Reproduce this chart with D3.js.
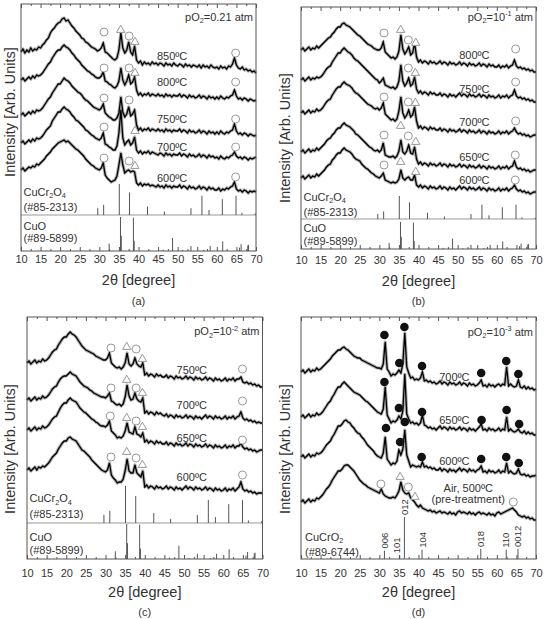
<!DOCTYPE html>
<html><head><meta charset="utf-8">
<script src="https://cdn.jsdelivr.net/npm/d3@7"></script>
<style>
body{margin:0;background:#fff;}
svg text{font-family:"Liberation Sans",Arial,sans-serif;fill:#333;}
</style></head><body>
<svg id="chart" width="547" height="619"></svg>
<script>
// ---------- DATA ----------
// 2theta grid: 10.0 .. 70.0 step 0.5 (121 points), rows of 10 values = 5 degrees
const twoTheta = d3.range(121).map(i => 10 + i * 0.5);
const majorTicks = [10,15,20,25,30,35,40,45,50,55,60,65,70];
const minorTicks = [12.5,17.5,22.5,27.5,32.5,37.5,42.5,47.5,52.5,57.5,62.5,67.5];

// Panel (a) pO2 = 0.21 atm
const a850 = [199,202,198,201,199,203,200,202,201,204, 203,206,208,211,213,218,221,223,226,228, 229,232,233,230,231,228,225,223,220,218, 216,213,212,209,208,206,204,203,202,200, 201,203,208,199,198,196,194,192,191,193, 201,218,203,198,201,209,199,196,205,191, 188,190,186,189,187,188,186,189,187,188, 186,188,187,185,188,186,187,185,188,186, 185,187,186,184,187,185,186,184,186,185, 184,186,183,186,184,185,183,186,184,183, 184,182,185,183,184,182,185,184,187,193, 186,183,182,184,181,182,180,181,179,180, 178];
const a800 = [171,173,170,172,174,172,175,173,176,175, 176,178,181,184,187,189,193,196,199,201, 201,204,206,204,203,201,198,196,193,191, 189,186,184,182,180,179,177,176,174,173, 173,175,179,170,169,167,166,164,163,165, 170,183,171,166,170,176,167,169,174,161, 156,158,155,157,156,158,155,157,156,155, 157,155,156,154,157,155,156,154,156,155, 155,157,154,156,155,153,156,154,155,153, 154,156,153,155,154,152,155,153,154,152, 154,152,155,153,152,154,153,155,156,161, 155,152,153,151,153,152,150,152,151,150, 151];
const a750 = [136,138,135,137,139,137,140,138,141,140, 141,143,146,149,152,154,158,161,164,167, 167,170,173,171,170,168,165,163,161,159, 158,156,153,151,150,148,146,144,143,142, 141,143,147,138,136,134,133,131,131,133, 138,154,139,134,137,144,135,137,141,126, 121,123,120,122,121,123,120,122,121,120, 122,120,121,119,122,120,121,119,121,120, 120,122,119,121,120,118,121,119,120,118, 119,121,118,120,119,117,120,118,119,117, 119,117,120,118,117,119,118,120,121,127, 120,117,118,116,118,117,115,117,116,115, 116];
const a700 = [108,110,107,109,111,109,112,110,113,112, 113,115,118,121,123,125,130,133,136,139, 139,142,144,142,141,139,136,134,131,130, 128,126,124,121,120,118,116,115,113,112, 111,113,118,107,106,104,103,101,101,105, 118,141,113,106,109,111,106,108,114,101, 98,100,97,99,98,100,97,99,98,97, 96,98,97,95,98,96,97,95,97,96, 96,98,95,97,96,94,97,95,96,94, 95,97,94,96,95,93,96,94,95,93, 94,92,95,93,92,94,93,95,96,99, 95,93,94,92,94,93,91,93,92,93, 94];
const a600 = [81,83,80,82,84,83,85,84,87,86, 88,90,92,95,97,99,102,104,106,108, 109,110,111,109,110,108,106,104,102,101, 99,97,95,92,90,88,86,85,83,82, 81,83,88,76,73,71,69,70,71,75, 86,98,86,78,80,81,79,80,79,68, 66,68,65,67,66,67,65,66,65,64, 66,64,65,63,66,64,65,63,65,64, 64,66,63,65,64,62,65,63,64,62, 63,65,62,64,63,61,64,62,63,61, 61,63,60,62,61,63,62,64,65,69, 62,60,61,59,61,60,58,60,59,60, 59];
const tempsA = ["850ºC","800ºC","750ºC","700ºC","600ºC"];
const markersA = [
 [31.2,219,"o"],[35.45,221,"t"],[37.6,215,"o"],[39.1,209,"t"],[64.8,198,"o"],
 [31.2,183,"o"],[37.6,183,"o"],[39.1,178,"t"],[64.8,169,"o"],
 [31.2,153,"o"],[37.6,151,"o"],[64.8,132,"o"],
 [31.2,124,"o"],[39.1,120,"t"],[64.8,104,"o"],
 [31.2,93,"o"],[37.6,90,"o"],[39.1,85,"t"],[64.8,74,"o"]];

// Panel (b) pO2 = 10^-1 atm
const b800 = [199,201,198,200,202,199,201,200,203,201, 203,205,207,209,211,212,215,217,220,222, 222,225,226,224,223,222,220,218,216,214, 213,211,209,207,205,204,203,201,200,199, 199,201,207,197,195,193,191,192,190,192, 198,214,200,195,198,202,194,196,206,192, 187,189,186,188,187,185,188,186,187,185, 186,188,185,187,186,184,187,185,186,184, 185,187,184,186,185,183,186,184,185,183, 184,186,183,185,184,182,185,183,184,182, 182,184,181,183,182,184,181,183,184,189, 183,181,182,180,181,179,180,178,179,177, 177];
const b750 = [169,171,168,170,172,169,171,170,172,171, 172,174,177,180,182,183,187,190,193,196, 196,199,201,199,197,196,194,191,189,188, 186,184,182,180,178,176,174,172,170,169, 166,168,171,164,163,162,161,162,160,162, 168,184,168,163,166,171,163,165,172,160, 156,158,155,157,156,154,157,155,156,154, 154,156,153,155,154,152,155,153,154,152, 154,156,153,155,154,152,155,153,154,152, 153,155,152,154,153,151,154,152,153,151, 152,154,151,153,152,154,151,153,154,159, 153,151,152,150,151,149,150,148,149,147, 147];
const b700 = [136,138,135,137,139,136,138,137,140,138, 139,141,144,147,149,150,154,157,160,162, 162,165,167,165,164,163,161,158,156,155, 153,151,149,147,145,144,143,141,140,141, 139,141,146,135,133,131,129,130,128,130, 138,152,136,131,134,139,132,134,142,128, 121,123,120,122,121,119,122,120,121,119, 119,121,118,120,119,117,120,118,119,117, 118,120,117,119,118,116,119,117,118,116, 117,119,116,118,117,115,118,116,117,115, 116,118,115,117,116,118,115,117,118,121, 117,115,116,114,115,113,114,112,113,114, 114];
const b650 = [97,99,96,98,100,97,99,98,101,99, 101,103,105,108,110,111,114,116,119,121, 121,124,126,124,123,122,120,118,115,114, 112,110,108,106,104,102,101,99,98,99, 97,99,106,94,93,92,92,93,91,93, 98,109,97,95,98,104,96,95,102,90, 85,87,84,86,85,83,86,84,85,83, 84,86,83,85,84,82,85,83,84,82, 83,85,82,84,83,81,84,82,83,81, 82,84,81,83,82,80,83,81,82,80, 81,83,80,82,81,83,80,82,83,88, 82,80,81,79,80,78,79,77,78,79, 79];
const b600 = [71,73,70,72,74,71,73,72,75,73, 75,77,79,82,84,85,89,91,94,96, 96,99,101,99,98,97,95,92,90,89, 88,85,83,81,80,78,76,75,73,72, 71,73,76,69,68,67,66,67,66,67, 70,79,71,69,71,72,69,69,74,64, 62,64,61,63,62,60,63,61,62,60, 61,63,60,62,61,59,62,60,61,59, 61,63,60,62,61,59,62,60,61,59, 60,62,59,61,60,58,61,59,60,58, 59,61,58,60,59,61,58,60,61,64, 60,58,59,57,58,56,57,55,56,57, 57];
const tempsB = ["800ºC","750ºC","700ºC","650ºC","600ºC"];
const markersB = [
 [31.2,216,"o"],[35.45,219,"t"],[37.4,209,"o"],[39.3,206,"t"],[64.8,200,"o"],
 [37.4,181,"o"],[39.2,176,"t"],[64.8,167,"o"],
 [31.2,152,"o"],[37.4,147,"o"],[39.2,146,"t"],[64.8,128,"o"],
 [31.2,114,"o"],[35.45,123,"t"],[37.4,113,"o"],[39.3,107,"t"],[64.7,94,"o"],
 [31.2,84,"o"],[35.45,87,"t"],[39.3,77,"t"],[64.7,69,"o"]];

// Panel (c) pO2 = 10^-2 atm
const c750 = [196,198,195,197,199,196,198,197,200,198, 199,201,204,207,209,210,214,217,220,222, 222,225,227,225,224,222,219,216,213,211, 209,208,207,206,205,203,202,201,200,199, 199,201,206,196,194,192,191,192,190,192, 196,206,195,193,195,201,195,193,192,196, 184,186,183,185,184,182,185,183,184,182, 182,184,181,183,182,180,183,181,182,180, 181,183,180,182,181,179,182,180,181,179, 180,182,179,181,180,178,181,179,180,178, 179,181,178,180,179,181,178,180,180,182, 177,176,177,175,176,174,175,173,174,172, 172];
const c700 = [159,161,158,160,162,159,161,160,163,161, 162,164,167,170,172,173,177,180,182,183, 183,185,187,185,184,183,180,177,175,173, 172,171,169,168,166,165,164,163,162,162, 161,163,166,158,157,155,154,155,153,155, 162,174,163,159,160,166,160,158,157,161, 146,148,145,147,146,144,147,145,146,144, 143,145,142,144,143,141,144,142,143,141, 142,144,141,143,142,140,143,141,142,140, 142,144,141,143,142,140,143,141,142,140, 141,143,140,142,141,143,140,142,143,147, 141,139,140,138,139,137,138,136,137,136, 136];
const c650 = [129,131,128,130,132,129,131,130,133,131, 132,134,137,140,142,143,147,151,154,156, 156,159,161,159,158,157,154,151,149,147, 146,144,142,140,139,137,136,134,133,133, 132,134,138,128,126,124,121,122,121,123, 128,136,127,126,125,132,125,124,122,126, 117,119,116,118,117,115,118,116,117,115, 115,117,114,116,115,113,116,114,115,113, 114,116,113,115,114,112,115,113,114,112, 113,115,112,114,113,111,114,112,113,111, 112,114,111,113,112,114,111,113,113,116, 112,110,111,109,110,108,109,107,108,109, 109];
const c600 = [89,91,88,90,92,89,92,91,93,92, 94,96,99,102,104,106,110,113,116,118, 118,121,122,120,119,118,115,112,109,108, 106,104,102,99,97,95,93,91,89,88, 87,89,96,84,81,79,76,77,77,80, 88,100,88,86,86,94,86,84,82,88, 72,74,71,73,72,70,73,71,72,70, 71,73,70,72,71,69,72,70,71,69, 71,73,70,72,71,69,72,70,71,69, 70,72,69,71,70,68,71,69,70,68, 69,71,68,70,69,71,68,70,72,77, 70,68,69,67,68,66,67,65,66,66, 66];
const tempsC = ["750ºC","700ºC","650ºC","600ºC"];
const markersC = [
 [31.4,211,"o"],[35.4,212,"t"],[37.8,210,"o"],[39.4,200,"t"],[64.9,190,"o"],
 [31.4,171,"o"],[35.4,179,"t"],[37.8,171,"o"],[39.4,166,"t"],[64.9,158,"o"],
 [31.2,143,"o"],[35.4,141,"t"],[37.8,138,"o"],[39.4,132,"t"],[64.9,119,"o"],
 [31.4,102,"o"],[35.4,107,"t"],[37.8,101,"o"],[39.4,94,"t"],[64.9,84,"o"]];

// Panel (d) pO2 = 10^-3 atm
const d700 = [187,189,186,188,190,187,189,188,191,189, 190,192,194,196,198,200,203,205,207,209, 209,211,212,210,209,207,205,203,202,201, 201,199,198,197,196,195,194,193,192,191, 191,190,195,217,190,187,183,185,184,186, 189,186,195,226,192,186,181,182,179,180, 179,181,187,178,179,177,178,176,177,175, 176,178,175,177,176,174,177,175,176,174, 175,177,174,176,175,173,176,174,175,173, 174,176,179,173,174,172,175,173,174,172, 174,175,173,175,174,192,173,175,173,172, 173,179,172,171,173,170,172,170,171,169, 170];
const d650 = [142,144,141,143,145,142,144,143,146,144, 145,147,150,153,156,158,162,165,169,172, 172,175,177,175,173,171,169,167,166,165, 164,162,160,158,157,155,153,151,149,147, 146,145,150,172,144,140,136,138,137,139, 143,140,148,185,145,140,136,137,135,136, 134,136,144,134,133,131,132,130,131,129, 131,133,130,132,131,129,132,130,131,129, 130,132,129,131,130,128,131,129,130,128, 130,132,135,129,130,128,131,129,130,128, 129,131,128,130,129,142,128,130,128,127, 128,130,127,126,128,125,127,125,126,124, 124];
const d600 = [102,104,101,103,105,102,104,103,106,105, 106,108,111,114,116,118,122,125,129,133, 133,135,138,139,137,136,133,131,128,126, 125,122,120,117,114,112,110,108,105,103, 102,101,106,122,100,97,94,96,95,98, 109,104,110,129,104,98,92,94,93,92, 93,92,97,92,93,91,92,90,91,89, 89,91,88,90,89,87,90,88,89,87, 89,91,88,90,89,87,90,88,89,87, 89,90,93,87,88,86,89,87,88,86, 87,89,86,88,87,96,86,88,86,85, 86,90,85,84,85,83,84,82,83,83, 84];
const dAir = [57,59,56,58,60,57,59,58,61,60, 62,64,67,70,72,75,79,82,85,88, 88,90,93,94,94,92,90,88,85,82, 79,77,75,74,72,71,70,69,68,67, 66,70,65,63,62,61,61,62,61,64, 68,77,69,66,65,66,61,59,57,54, 52,54,51,50,49,48,49,47,48,46, 47,48,46,47,46,45,47,45,46,44, 47,48,46,47,46,45,47,45,46,44, 46,47,45,46,45,44,46,44,45,43, 46,47,45,46,47,48,49,50,51,49, 47,44,43,42,43,41,42,40,41,39, 39];
const tempsD = ["700ºC","650ºC","600ºC"];
const airLabel = ["Air, 500ºC","(pre-treatment)"];
const markersD = [
 [31.3,224,"f"],[35.1,196,"f"],[36.4,232,"f"],[40.9,193,"f"],[56,186,"f"],[62.4,198,"f"],[65.5,185,"f"],
 [31.3,177,"f"],[35.0,151,"f"],[40.9,147,"f"],[56.1,139,"f"],[62.5,149,"f"],[65.7,135,"f"],
 [31.7,131,"f"],[35.3,117,"f"],[36.5,137,"f"],[40.8,102,"f"],[56,100,"f"],[62.4,102,"f"],[65.6,96,"f"],
 [30.4,75,"o"],[35.3,82,"t"],[37.4,72,"o"],[39.1,62,"t"],[64.2,57,"o"]];

// Reference patterns (position, relative intensity %)
const cuCr2O4Pos = [29.6,31.1,35.1,37.7,42.3,46.6,53.4,56.2,58.0,61.4,64.9,66.4,69.8];
const cuCr2O4Int = [22,33,100,73,27,11,22,62,16,51,62,7,5];
const cuOPos = [32.5,35.4,35.6,38.7,38.9,46.3,48.7,51.3,53.4,56.7,58.3,61.5,65.8,66.2,67.9,68.1];
const cuOInt = [22,100,45,98,30,4,38,3,15,3,15,28,10,20,16,18];
const cuCrO2Pos = [31.3,35.2,36.4,40.9,55.9,62.4,65.4];
const cuCrO2Int = [20,9,100,22,24,22,24];
const cuCrO2Hkl = ["006","101","012","104","018","110","0012"];

// ---------- LAYOUT ----------
const panels = [
 {tag:"(a)", l:21, r:256, t:4, b:251, series:[a850,a800,a750,a700,a600], temps:tempsA, tempX:44.7, tempV:[191,165,128,100,69],
  markers:markersA, pO2:["=0.21 atm", null], pO2Y:20.5, ref:"two", sep:215, crMax:31, cuoMax:34, refY:[195.5,211,229.5,242],
  yLab:[9.5,112], tickY:263.3, titleY:285, tagY:305},
 {tag:"(b)", l:301, r:536, t:7, b:249, series:[b800,b750,b700,b650,b600], temps:tempsB, tempX:50.4, tempV:[190,156,123,88,65],
  markers:markersB, pO2:["=10","-1"], pO2Y:20.5, ref:"two", sep:219, crMax:23, cuoMax:27, refY:[200.5,216,232,244.5],
  yLab:[285,138], tickY:264, titleY:285.5, tagY:305},
 {tag:"(c)", l:27, r:262.5, t:317, b:559, series:[c750,c700,c650,c600], temps:tempsC, tempX:48.1, tempV:[185,150,117,78],
  markers:markersC, pO2:["=10","-2"], pO2Y:335, ref:"two", sep:523, crMax:37, cuoMax:35, refY:[502,517.5,541,554],
  yLab:[10,449], tickY:577.3, titleY:596.5, tagY:616},
 {tag:"(d)", l:301, r:536, t:317, b:559, series:[d700,d650,d600,dAir], temps:tempsD, tempX:45.3, tempV:[178,135,94],
  markers:markersD, pO2:["=10","-3"], pO2Y:335.5, ref:"one", crO2Max:42, refY:[540.5,555.5],
  yLab:[285,449], tickY:577.3, titleY:596.5, tagY:616}
];
const hklDx = [0,-3.5,0,0,0,-1,0];

const svg = d3.select("#chart");

function rich(sel, parts, size){
  let shift = 0;
  parts.forEach(([txt, kind]) => {
    const target = kind === "sub" ? 2.5 : kind === "sup" ? -4.5 : 0;
    sel.append("tspan").attr("dy", target - shift).attr("font-size", kind ? size*0.66 : size).text(txt);
    shift = target;
  });
}

panels.forEach(p => {
  const x = d3.scaleLinear().domain([10,70]).range([p.l, p.r]);
  const y = d3.scaleLinear().domain([0, p.b - p.t]).range([p.b, p.t]);
  const g = svg.append("g");
  const line = d3.line().x((d,i) => x(twoTheta[i])).y(d => y(d));

  // reference sticks
  if(p.ref === "two"){
    const sepV = p.b - p.sep;
    g.append("line").attr("x1",x(10)).attr("x2",x(70)).attr("y1",y(sepV)).attr("y2",y(sepV)).attr("stroke","#999").attr("stroke-width",1);
    g.selectAll(null).data(cuCr2O4Pos.map((d,i)=>[d,cuCr2O4Int[i]])).join("line")
      .attr("x1",d=>x(d[0])).attr("x2",d=>x(d[0])).attr("y1",y(sepV)).attr("y2",d=>y(sepV + d[1]/100*p.crMax))
      .attr("stroke","#555").attr("stroke-width",1);
    g.selectAll(null).data(cuOPos.map((d,i)=>[d,cuOInt[i]])).join("line")
      .attr("x1",d=>x(d[0])).attr("x2",d=>x(d[0])).attr("y1",y(0)).attr("y2",d=>y(d[1]/100*p.cuoMax))
      .attr("stroke","#555").attr("stroke-width",1);
    const t1 = g.append("text").attr("x",p.l+2.5).attr("y",p.refY[0]).attr("font-size",11);
    rich(t1, [["CuCr"],["2","sub"],["O"],["4","sub"]], 11);
    g.append("text").attr("x",p.l+2.5).attr("y",p.refY[1]).attr("font-size",11).text("(#85-2313)");
    g.append("text").attr("x",p.l+2.5).attr("y",p.refY[2]).attr("font-size",11).text("CuO");
    g.append("text").attr("x",p.l+2.5).attr("y",p.refY[3]).attr("font-size",11).text("(#89-5899)");
  } else {
    const rows = cuCrO2Pos.map((d,i)=>[d,cuCrO2Int[i],cuCrO2Hkl[i],hklDx[i]]);
    g.selectAll(null).data(rows).join("line")
      .attr("x1",d=>x(d[0])).attr("x2",d=>x(d[0])).attr("y1",y(0)).attr("y2",d=>y(d[1]/100*p.crO2Max))
      .attr("stroke","#555").attr("stroke-width",1);
    g.selectAll(null).data(rows).join("text")
      .attr("transform",d=>`translate(${x(d[0])+d[3]},${y(d[1]/100*p.crO2Max)-2}) rotate(-90)`)
      .attr("dominant-baseline","central").attr("font-size",9.5).text(d=>d[2]);
    const t1 = g.append("text").attr("x",p.l+4).attr("y",p.refY[0]).attr("font-size",11);
    rich(t1, [["CuCrO"],["2","sub"]], 11);
    g.append("text").attr("x",p.l+4).attr("y",p.refY[1]).attr("font-size",11).text("(#89-6744)");
  }

  // traces: dark halo + black core (noisy look)
  p.series.forEach(s => {
    g.append("path").attr("d", line(s)).attr("fill","none").attr("stroke","#555")
      .attr("stroke-width",3.2).attr("stroke-linejoin","round").attr("opacity",0.5);
  });
  p.series.forEach(s => {
    g.append("path").attr("d", line(s)).attr("fill","none").attr("stroke","#000")
      .attr("stroke-width",1.3).attr("stroke-linejoin","miter");
  });

  // markers
  const tri = d3.symbol().type(d3.symbolTriangle).size(30);
  p.markers.forEach(([tt, v, k]) => {
    if(k === "o") g.append("circle").attr("cx",x(tt)).attr("cy",y(v)).attr("r",4).attr("fill","#fff").attr("stroke","#999").attr("stroke-width",1);
    else if(k === "f") g.append("circle").attr("cx",x(tt)).attr("cy",y(v)).attr("r",4.3).attr("fill","#111");
    else g.append("path").attr("d",tri()).attr("transform",`translate(${x(tt)},${y(v)})`).attr("fill","#fff").attr("stroke","#999").attr("stroke-width",1);
  });

  // temperature labels
  p.temps.forEach((lab,i) => {
    g.append("text").attr("x",x(p.tempX)).attr("y",y(p.tempV[i])).attr("font-size",11).text(lab);
  });
  if(p.tag === "(d)"){
    g.append("text").attr("x",x(52.7)).attr("y",y(67)).attr("font-size",11).attr("text-anchor","middle").text(airLabel[0]);
    g.append("text").attr("x",x(52.7)).attr("y",y(56)).attr("font-size",11).attr("text-anchor","middle").text(airLabel[1]);
  }

  // pO2 label
  const pt = g.append("text").attr("x",p.r-3).attr("y",p.pO2Y).attr("font-size",11).attr("text-anchor","end");
  if(p.pO2[1] === null) rich(pt, [["pO"],["2","sub"],[p.pO2[0]]], 11);
  else rich(pt, [["pO"],["2","sub"],[p.pO2[0]],[p.pO2[1],"sup"],[" atm"]], 11);

  // frame
  g.append("rect").attr("x",p.l).attr("y",p.t).attr("width",p.r-p.l).attr("height",p.b-p.t)
    .attr("fill","none").attr("stroke","#555").attr("stroke-width",1);

  // axes ticks (inward)
  const bMaj = g.append("g").attr("transform",`translate(0,${p.b})`)
    .call(d3.axisBottom(x).tickValues(majorTicks).tickSize(-4).tickPadding(4.5).tickFormat(d3.format("d")));
  bMaj.select(".domain").remove();
  bMaj.selectAll("text").attr("font-size",11).attr("font-family","Liberation Sans, Arial, sans-serif").attr("fill","#333").attr("dy",null).attr("y",p.tickY-p.b);
  bMaj.selectAll("line").attr("stroke","#555");
  const bMin = g.append("g").attr("transform",`translate(0,${p.b})`).call(d3.axisBottom(x).tickValues(minorTicks).tickSize(-2).tickFormat(""));
  bMin.select(".domain").remove(); bMin.selectAll("line").attr("stroke","#555");
  const tMaj = g.append("g").attr("transform",`translate(0,${p.t})`).call(d3.axisTop(x).tickValues(majorTicks).tickSize(-4).tickFormat(""));
  tMaj.select(".domain").remove(); tMaj.selectAll("line").attr("stroke","#555");
  const tMin = g.append("g").attr("transform",`translate(0,${p.t})`).call(d3.axisTop(x).tickValues(minorTicks).tickSize(-2).tickFormat(""));
  tMin.select(".domain").remove(); tMin.selectAll("line").attr("stroke","#555");
  [bMin,tMaj,tMin].forEach(ax => ax.selectAll("text").remove());

  // axis titles
  g.append("text").attr("x",(p.l+p.r)/2).attr("y",p.titleY).attr("text-anchor","middle").attr("font-size",14.5).text("2θ [degree]");
  g.append("text").attr("x",(p.l+p.r)/2).attr("y",p.tagY).attr("text-anchor","middle").attr("font-size",11).text(p.tag);
  g.append("text").attr("transform",`translate(${p.yLab[0]},${p.yLab[1]}) rotate(-90)`)
    .attr("text-anchor","middle").attr("dominant-baseline","central").attr("font-size",14.5).text("Intensity [Arb. Units]");
});
</script>
</body></html>
